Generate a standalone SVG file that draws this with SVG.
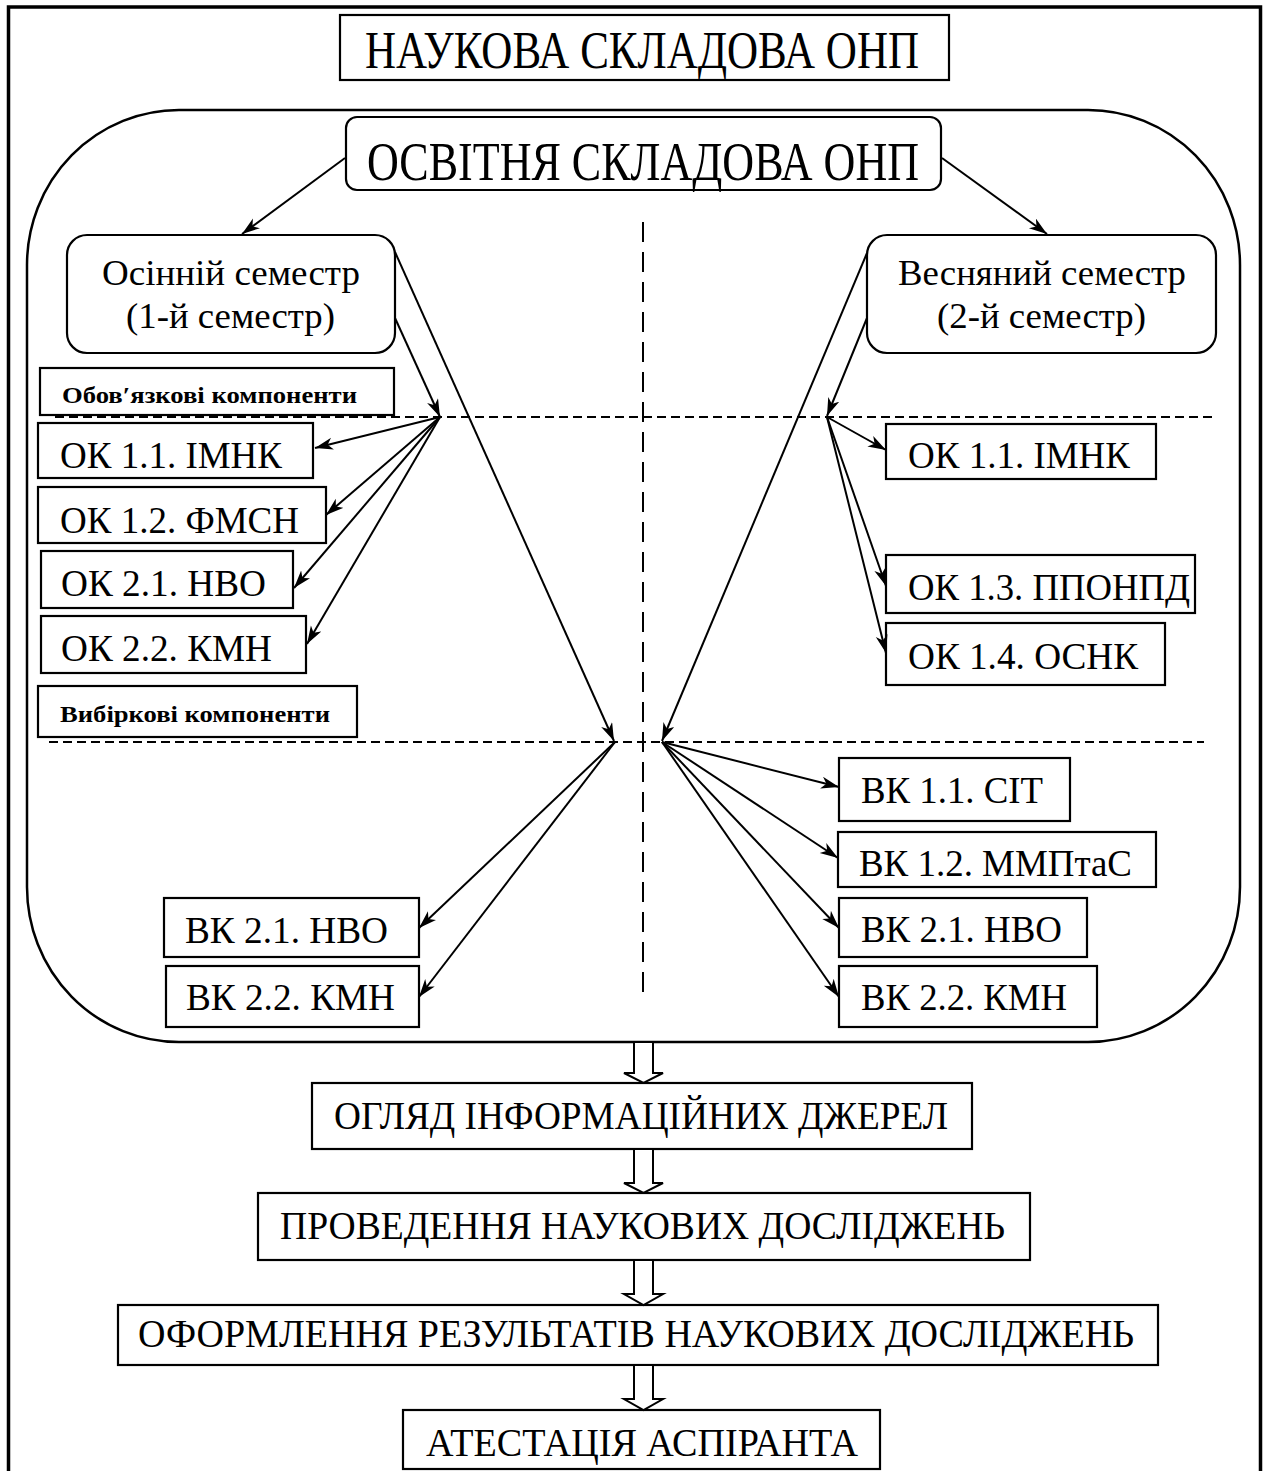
<svg xmlns="http://www.w3.org/2000/svg" width="1265" height="1471" viewBox="0 0 1265 1471">
<defs>
<style>
.t{font-family:"Liberation Serif","Times New Roman",serif;fill:#000}
.b{font-family:"Liberation Serif","Times New Roman",serif;font-weight:bold;fill:#000}
.box{fill:#fff;stroke:#000;stroke-width:2.2}
.con{fill:none;stroke:#000;stroke-width:2;marker-end:url(#ah)}
.dash{fill:none;stroke:#000;stroke-width:2}
.hol{fill:#fff;stroke:#000;stroke-width:2;stroke-linejoin:miter}
</style>
<marker id="ah" markerUnits="userSpaceOnUse" markerWidth="20" markerHeight="14" refX="18" refY="6" orient="auto">
<path d="M0,0 L18,6 L0,12 L5,6 Z" fill="#000"/>
</marker>
</defs>
<rect width="1265" height="1471" fill="#fff"/>
<path d="M8.5,1471 V7 H1260.5 V1471" fill="none" stroke="#000" stroke-width="3.5"/>

<g id="title">
<rect class="box" x="340" y="15" width="609" height="65"/>
<text class="t" x="365" y="68" font-size="52" textLength="554" lengthAdjust="spacingAndGlyphs">НАУКОВА СКЛАДОВА ОНП</text>
</g>

<g id="container">
<rect x="27" y="110" width="1213" height="932" rx="152" ry="155" fill="none" stroke="#000" stroke-width="2.5"/>
</g>

<g id="guides">
<line class="dash" x1="643" y1="222" x2="643" y2="998" stroke-dasharray="20,10"/>
<line class="dash" x1="55" y1="417" x2="1212" y2="417" stroke-dasharray="9,5"/>
<line class="dash" x1="49" y1="742" x2="1204" y2="742" stroke-dasharray="9,5"/>
</g>

<g id="osvitnia">
<rect class="box" x="346" y="117" width="595" height="73" rx="11"/>
<text class="t" x="367" y="180" font-size="55" textLength="552" lengthAdjust="spacingAndGlyphs">ОСВІТНЯ СКЛАДОВА ОНП</text>
</g>

<g id="autumn">
<rect class="box" x="67" y="235" width="328" height="118" rx="20"/>
<text class="t" x="102" y="285" font-size="36" textLength="258" lengthAdjust="spacingAndGlyphs">Осінній семестр</text>
<text class="t" x="126" y="328" font-size="36" textLength="209" lengthAdjust="spacingAndGlyphs">(1-й семестр)</text>
</g>

<g id="spring">
<rect class="box" x="867" y="235" width="349" height="118" rx="20"/>
<text class="t" x="898" y="285" font-size="36" textLength="288" lengthAdjust="spacingAndGlyphs">Весняний семестр</text>
<text class="t" x="937" y="328" font-size="36" textLength="209" lengthAdjust="spacingAndGlyphs">(2-й семестр)</text>
</g>

<g id="oblig-label">
<rect class="box" x="40" y="368" width="354" height="47"/>
<text class="b" x="62" y="403" font-size="24" textLength="295" lengthAdjust="spacingAndGlyphs">Обов′язкові компоненти</text>
</g>

<g id="ok11-left">
<rect class="box" x="38" y="423" width="275" height="55"/>
<text class="t" x="60" y="468" font-size="38" textLength="222" lengthAdjust="spacingAndGlyphs">ОК 1.1. ІМНК</text>
</g>
<g id="ok12-left">
<rect class="box" x="38" y="487" width="288" height="56"/>
<text class="t" x="60" y="533" font-size="38" textLength="239" lengthAdjust="spacingAndGlyphs">ОК 1.2. ФМСН</text>
</g>
<g id="ok21-left">
<rect class="box" x="41" y="551" width="252" height="57"/>
<text class="t" x="61" y="596" font-size="38" textLength="205" lengthAdjust="spacingAndGlyphs">ОК 2.1. НВО</text>
</g>
<g id="ok22-left">
<rect class="box" x="41" y="616" width="265" height="57"/>
<text class="t" x="61" y="661" font-size="38" textLength="211" lengthAdjust="spacingAndGlyphs">ОК 2.2. КМН</text>
</g>

<g id="elective-label">
<rect class="box" x="38" y="686" width="319" height="51"/>
<text class="b" x="60" y="722" font-size="24" textLength="270" lengthAdjust="spacingAndGlyphs">Вибіркові компоненти</text>
</g>

<g id="ok11-right">
<rect class="box" x="886" y="424" width="270" height="55"/>
<text class="t" x="908" y="468" font-size="38" textLength="222" lengthAdjust="spacingAndGlyphs">ОК 1.1. ІМНК</text>
</g>
<g id="ok13-right">
<rect class="box" x="886" y="555" width="309" height="58"/>
<text class="t" x="908" y="600" font-size="38" textLength="282" lengthAdjust="spacingAndGlyphs">ОК 1.3. ППОНПД</text>
</g>
<g id="ok14-right">
<rect class="box" x="886" y="623" width="279" height="62"/>
<text class="t" x="908" y="669" font-size="38" textLength="230" lengthAdjust="spacingAndGlyphs">ОК 1.4. ОСНК</text>
</g>

<g id="vk11-right">
<rect class="box" x="839" y="758" width="231" height="63"/>
<text class="t" x="861" y="803" font-size="38" textLength="182" lengthAdjust="spacingAndGlyphs">ВК 1.1. СІТ</text>
</g>
<g id="vk12-right">
<rect class="box" x="838" y="832" width="318" height="55"/>
<text class="t" x="859" y="876" font-size="38" textLength="273" lengthAdjust="spacingAndGlyphs">ВК 1.2. ММПтаС</text>
</g>
<g id="vk21-right">
<rect class="box" x="839" y="898" width="248" height="59"/>
<text class="t" x="861" y="942" font-size="38" textLength="201" lengthAdjust="spacingAndGlyphs">ВК 2.1. НВО</text>
</g>
<g id="vk22-right">
<rect class="box" x="839" y="966" width="258" height="61"/>
<text class="t" x="861" y="1010" font-size="38" textLength="206" lengthAdjust="spacingAndGlyphs">ВК 2.2. КМН</text>
</g>

<g id="vk21-left">
<rect class="box" x="164" y="898" width="255" height="59"/>
<text class="t" x="185" y="943" font-size="38" textLength="203" lengthAdjust="spacingAndGlyphs">ВК 2.1. НВО</text>
</g>
<g id="vk22-left">
<rect class="box" x="166" y="966" width="253" height="61"/>
<text class="t" x="186" y="1010" font-size="38" textLength="209" lengthAdjust="spacingAndGlyphs">ВК 2.2. КМН</text>
</g>

<g id="review">
<rect class="box" x="312" y="1083" width="660" height="66"/>
<text class="t" x="334" y="1129" font-size="41" textLength="614" lengthAdjust="spacingAndGlyphs">ОГЛЯД ІНФОРМАЦІЙНИХ ДЖЕРЕЛ</text>
</g>
<g id="research">
<rect class="box" x="258" y="1193" width="772" height="67"/>
<text class="t" x="280" y="1239" font-size="41" textLength="725" lengthAdjust="spacingAndGlyphs">ПРОВЕДЕННЯ НАУКОВИХ ДОСЛІДЖЕНЬ</text>
</g>
<g id="results">
<rect class="box" x="118" y="1305" width="1040" height="60"/>
<text class="t" x="138" y="1347" font-size="41" textLength="996" lengthAdjust="spacingAndGlyphs">ОФОРМЛЕННЯ РЕЗУЛЬТАТІВ НАУКОВИХ ДОСЛІДЖЕНЬ</text>
</g>
<g id="attestation">
<rect class="box" x="403" y="1410" width="477" height="59"/>
<text class="t" x="426" y="1456" font-size="41" textLength="432" lengthAdjust="spacingAndGlyphs">АТЕСТАЦІЯ АСПІРАНТА</text>
</g>

<g id="connectors">
<line class="con" x1="345" y1="158" x2="242" y2="234"/>
<line class="con" x1="942" y1="158" x2="1047" y2="234"/>
<line class="con" x1="395" y1="318" x2="440" y2="417"/>
<line class="con" x1="395" y1="252" x2="614" y2="741"/>
<line class="con" x1="440" y1="417" x2="315" y2="448"/>
<line class="con" x1="440" y1="417" x2="326" y2="515"/>
<line class="con" x1="440" y1="417" x2="294" y2="588"/>
<line class="con" x1="440" y1="417" x2="307" y2="644"/>
<line class="con" x1="867" y1="318" x2="827" y2="416"/>
<line class="con" x1="867" y1="253" x2="662" y2="741"/>
<line class="con" x1="827" y1="417" x2="886" y2="450"/>
<line class="con" x1="827" y1="417" x2="886" y2="586"/>
<line class="con" x1="827" y1="417" x2="886" y2="653"/>
<line class="con" x1="662" y1="742" x2="839" y2="787"/>
<line class="con" x1="662" y1="742" x2="838" y2="858"/>
<line class="con" x1="662" y1="742" x2="839" y2="928"/>
<line class="con" x1="662" y1="742" x2="839" y2="997"/>
<line class="con" x1="615" y1="742" x2="419" y2="928"/>
<line class="con" x1="615" y1="742" x2="419" y2="997"/>
<polygon class="hol" points="634,1042 653,1042 653,1073 663,1073 643.5,1083 624,1073 634,1073"/>
<polygon class="hol" points="634,1149 653,1149 653,1183 663,1183 643.5,1193 624,1183 634,1183"/>
<polygon class="hol" points="634,1260 653,1260 653,1294 663,1294 643.5,1305 624,1294 634,1294"/>
<polygon class="hol" points="634,1365 653,1365 653,1399 663,1399 643.5,1410 624,1399 634,1399"/>
</g>
</svg>
